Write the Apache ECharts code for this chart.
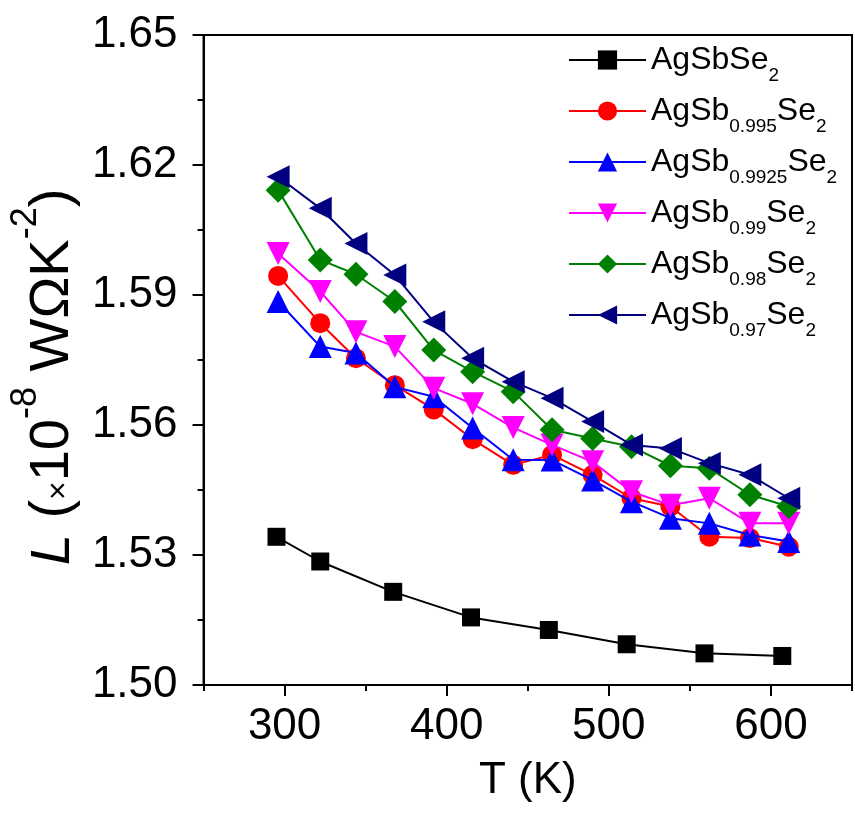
<!DOCTYPE html>
<html>
<head>
<meta charset="utf-8">
<script src="https://cdn.jsdelivr.net/npm/echarts@6/dist/echarts.min.js"></script>
<style>
html,body{margin:0;padding:0;background:#fff;}
#chart{width:855px;height:813px;}
</style>
</head>
<body>
<div id="chart"></div>
<script>
// ---- data ----
var T_pure = [295, 322, 367, 415, 463, 511, 559, 607];
var L_pure = [1.5342, 1.5285, 1.5215, 1.5156, 1.5127, 1.5094, 1.5073, 1.5067];

var T_doped = [296, 322, 344, 368, 392, 416, 441, 465, 490, 514, 538, 562, 587, 611];
var L_0995 = [1.5944, 1.5835, 1.5754, 1.5692, 1.5636, 1.5567, 1.5508, 1.5531, 1.5485, 1.5431, 1.5412, 1.5342, 1.5339, 1.5319];
var L_09925 = [1.5885, 1.5781, 1.5766, 1.5688, 1.5665, 1.5593, 1.5520, 1.5519, 1.5473, 1.5423, 1.5385, 1.5373, 1.5346, 1.5331];
var L_099 = [1.5996, 1.5908, 1.5815, 1.5781, 1.5685, 1.5649, 1.5594, 1.5554, 1.5515, 1.5446, 1.5415, 1.5431, 1.5373, 1.5373];
var L_098 = [1.6142, 1.5981, 1.5948, 1.5885, 1.5773, 1.5723, 1.5677, 1.5589, 1.5569, 1.5550, 1.5506, 1.5500, 1.5439, 1.5412];
var L_097 = [1.6173, 1.6100, 1.6019, 1.5946, 1.5838, 1.5754, 1.5700, 1.5662, 1.5608, 1.5554, 1.5546, 1.5512, 1.5485, 1.5431];

var seriesNames = ['AgSbSe2', 'AgSb0.995Se2', 'AgSb0.9925Se2', 'AgSb0.99Se2', 'AgSb0.98Se2', 'AgSb0.97Se2'];
var subs = ['', '0.995', '0.9925', '0.99', '0.98', '0.97'];
var xLabelValues = [300, 400, 500, 600];

function pairs(xs, ys) {
  return xs.map(function (x, i) { return [x, ys[i]]; });
}

var FONT = '"Liberation Sans", Arial, sans-serif';

var chart = echarts.init(document.getElementById('chart'), null, {renderer: 'canvas'});

function mkSeries(i, xs, ys, color, symbol, size, rot) {
  return {
    name: seriesNames[i],
    type: 'line',
    data: pairs(xs, ys),
    xAxisIndex: 0,
    yAxisIndex: 0,
    symbol: symbol,
    symbolSize: size,
    symbolRotate: rot || 0,
    showAllSymbol: true,
    lineStyle: {color: color, width: 2},
    itemStyle: {color: color},
    emphasis: {disabled: true},
    animation: false,
    z: 2 + i
  };
}

var option = {
  backgroundColor: '#fff',
  animation: false,
  grid: {
    left: 201, right: 3, top: 35, bottom: 128,
    show: true, borderColor: '#000', borderWidth: 2, backgroundColor: 'transparent'
  },
  legend: {
    orient: 'vertical',
    left: 563,
    top: 39,
    itemWidth: 77,
    itemHeight: 24,
    itemGap: 10,
    data: seriesNames,
    textStyle: {
      fontFamily: FONT,
      rich: {
        m: {fontSize: 32, fontFamily: FONT, color: '#000', lineHeight: 50, verticalAlign: 'middle'},
        s: {fontSize: 19, fontFamily: FONT, color: '#000', lineHeight: 19, verticalAlign: 'bottom'}
      }
    },
    formatter: function (name) {
      var i = seriesNames.indexOf(name);
      if (i === 0) return '{m|AgSbSe}{s|2}';
      return '{m|AgSb}{s|' + subs[i] + '}{m|Se}{s|2}';
    }
  },
  xAxis: [
    {
      type: 'value',
      position: 'bottom',
      min: 250, max: 650, interval: 50,
      name: 'T (K)',
      nameLocation: 'middle',
      nameGap: 74,
      nameTextStyle: {fontSize: 44, fontFamily: FONT, color: '#000'},
      axisLine: {show: true, onZero: false, lineStyle: {color: '#000', width: 2}},
      axisTick: {show: true, inside: false, length: 6, lineStyle: {color: '#000', width: 2}},
      axisLabel: {show: true, customValues: xLabelValues, fontSize: 44, fontFamily: FONT, color: '#000', margin: 20},
      splitLine: {show: false}
    },
    {
      type: 'value',
      position: 'bottom',
      min: 250, max: 650, interval: 50,
      axisLine: {show: false, onZero: false},
      axisTick: {show: true, inside: false, length: 11, customValues: xLabelValues, lineStyle: {color: '#000', width: 2}},
      axisLabel: {show: false},
      splitLine: {show: false}
    }
  ],
  yAxis: [
    {
      type: 'value',
      position: 'left',
      min: 1.50, max: 1.65, interval: 0.03,
      name: '{it|L}{n| (}{x|×}{n|10}{sup|-8}{n| WΩK}{sup|-2}{n|)}',
      nameLocation: 'middle',
      nameRotate: 90,
      nameGap: 70,
      nameTextStyle: {
        fontFamily: FONT, color: '#000',
        padding: [0, 34, 0, 0],
        rich: {
          it: {fontSize: 56, fontStyle: 'italic', fontFamily: FONT, color: '#000', lineHeight: 90, verticalAlign: 'middle'},
          n: {fontSize: 56, fontFamily: FONT, color: '#000', lineHeight: 90, verticalAlign: 'middle'},
          x: {fontSize: 32, fontFamily: FONT, color: '#000', lineHeight: 32, verticalAlign: 'middle', padding: [12, 0, 0, 0]},
          sup: {fontSize: 36, fontFamily: FONT, color: '#000', lineHeight: 36, verticalAlign: 'top'}
        }
      },
      axisLine: {show: true, onZero: false, lineStyle: {color: '#000', width: 2}},
      axisTick: {show: true, inside: false, length: 11, lineStyle: {color: '#000', width: 2}},
      minorTick: {show: true, splitNumber: 2, length: 6, lineStyle: {color: '#000', width: 2}},
      axisLabel: {
        fontSize: 44, fontFamily: FONT, color: '#000', margin: 26,
        formatter: function (v) { return v.toFixed(2); }
      },
      splitLine: {show: false},
      minorSplitLine: {show: false}
    }
  ],
  series: [
    mkSeries(0, T_pure, L_pure, '#000000', 'rect', 18, 0),
    mkSeries(1, T_doped, L_0995, '#FF0000', 'circle', 20, 0),
    mkSeries(2, T_doped, L_09925, '#0000FF', 'triangle', 23, 0),
    mkSeries(3, T_doped, L_099, '#FF00FF', 'triangle', 23, 180),
    mkSeries(4, T_doped, L_098, '#008000', 'diamond', 25, 0),
    mkSeries(5, T_doped, L_097, '#000080', 'triangle', 23, 90)
  ]
};

chart.setOption(option);
</script>
</body>
</html>
